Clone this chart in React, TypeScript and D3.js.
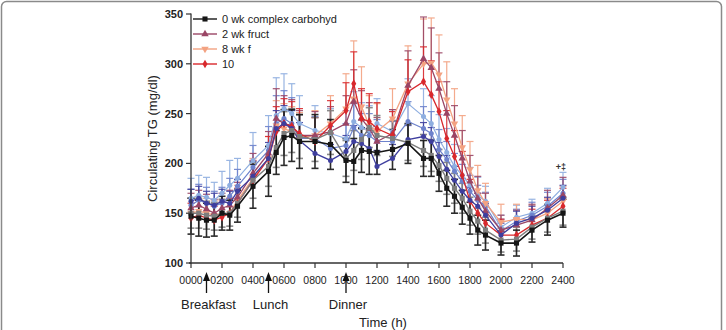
import React from 'react';
import * as d3 from 'd3';

// sampling times (h after first meal window start)
const hours = [0, 0.5, 1, 1.5, 2, 2.5, 3, 4, 5, 5.5, 6, 6.5, 7, 8, 9, 10, 10.5, 11, 11.5, 12, 13, 14, 15, 15.5, 16, 16.5, 17, 17.5, 18, 18.5, 19, 20, 21, 22, 23, 24];
const xTicks = [0, 2, 4, 6, 8, 10, 12, 14, 16, 18, 20, 22, 24];
const yTicks = [100, 150, 200, 250, 300, 350];

const black = [147, 145, 143, 143, 150, 148, 157, 177, 192, 211, 226, 228, 222, 222, 219, 203, 202, 213, 212, 211, 214, 220, 205, 205, 190, 175, 167, 156, 145, 133, 128, 120, 120, 133, 143, 150];
const blackErr = [18, 18, 17, 16, 17, 15, 16, 22, 25, 22, 28, 26, 27, 27, 25, 22, 23, 22, 23, 22, 20, 20, 18, 18, 18, 18, 17, 17, 16, 15, 15, 12, 13, 12, 15, 14];
const gray = [150, 150, 148, 147, 150, 150, 160, 183, 197, 216, 230, 233, 227, 224, 231, 205, 213, 224, 236, 228, 225, 221, 213, 208, 198, 185, 175, 165, 152, 142, 133, 123, 124, 136, 145, 152];
const grayErr = [15, 15, 14, 14, 14, 13, 14, 18, 20, 20, 22, 22, 22, 22, 22, 18, 20, 20, 20, 20, 18, 18, 16, 16, 16, 16, 15, 15, 14, 13, 13, 12, 12, 12, 14, 14];
const indigo = [162, 165, 160, 158, 162, 160, 172, 187, 205, 235, 240, 235, 223, 210, 203, 212, 222, 220, 215, 197, 205, 224, 227, 222, 207, 194, 183, 172, 163, 157, 148, 128, 140, 145, 153, 165];
const indigoErr = [12, 12, 12, 12, 12, 12, 12, 15, 16, 18, 18, 18, 18, 16, 16, 16, 16, 16, 16, 16, 14, 14, 14, 14, 14, 14, 14, 13, 13, 13, 12, 12, 12, 12, 13, 13];
const blue = [158, 163, 160, 157, 160, 167, 177, 196, 213, 240, 245, 240, 225, 225, 215, 218, 236, 228, 228, 222, 222, 242, 235, 230, 214, 204, 192, 182, 172, 163, 157, 132, 142, 148, 157, 170];
const blueErr = [16, 16, 16, 15, 16, 18, 17, 22, 24, 28, 28, 26, 24, 22, 22, 22, 24, 22, 22, 22, 20, 20, 22, 22, 20, 18, 18, 17, 16, 15, 14, 12, 12, 13, 14, 14];
const lightBlue = [165, 168, 166, 163, 170, 178, 185, 203, 218, 248, 255, 250, 240, 233, 230, 225, 242, 236, 233, 240, 232, 260, 247, 240, 224, 211, 197, 188, 178, 168, 162, 136, 146, 150, 160, 176];
const lightBlueErr = [20, 20, 20, 18, 22, 25, 20, 28, 30, 38, 35, 30, 28, 25, 25, 28, 30, 25, 25, 25, 22, 25, 28, 28, 25, 24, 22, 20, 18, 18, 15, 12, 12, 14, 15, 15];
const fruct2 = [155, 158, 154, 150, 155, 158, 166, 190, 210, 245, 240, 238, 228, 228, 232, 240, 262, 245, 235, 222, 230, 278, 305, 296, 275, 250, 228, 205, 182, 165, 152, 133, 138, 143, 155, 168];
const fruct2Err = [15, 15, 15, 14, 15, 15, 15, 20, 22, 30, 28, 26, 25, 24, 25, 28, 32, 28, 26, 24, 24, 35, 42, 40, 36, 32, 30, 28, 26, 22, 18, 15, 15, 16, 18, 18];
const fruct8 = [150, 152, 150, 148, 148, 150, 163, 185, 205, 238, 235, 232, 226, 228, 240, 255, 265, 257, 238, 232, 245, 280, 300, 301, 289, 264, 240, 216, 194, 173, 160, 141, 144, 143, 150, 162];
const fruct8Err = [15, 15, 15, 15, 15, 15, 15, 20, 22, 25, 25, 25, 25, 25, 28, 35, 58, 40, 30, 28, 30, 38, 45, 45, 40, 38, 35, 32, 28, 25, 20, 18, 15, 15, 15, 15];
const fruct10 = [145, 148, 145, 143, 146, 150, 160, 183, 205, 232, 240, 237, 230, 222, 238, 253, 280, 245, 242, 235, 228, 272, 282, 269, 252, 225, 207, 188, 162, 150, 140, 128, 128, 138, 145, 157];
const fruct10Err = [15, 15, 15, 14, 15, 15, 15, 20, 22, 25, 25, 25, 25, 24, 25, 28, 32, 30, 28, 26, 24, 32, 35, 34, 30, 28, 26, 24, 22, 20, 18, 16, 16, 16, 18, 18];

const legendLabels = ['0 wk complex carbohyd', '2 wk fruct', '8 wk f', '10'];
const mealLabels = ['Breakfast', 'Lunch', 'Dinner'];
const mealHours = [1, 5, 10];

type Series = { values: number[]; err: number[]; color: string; shape: string; both: boolean; width: number };

const series: Series[] = [
  { values: lightBlue, err: lightBlueErr, color: '#8eaee0', shape: 'circle', both: false, width: 1.2 },
  { values: blue, err: blueErr, color: '#6d82cc', shape: 'circle', both: false, width: 1.2 },
  { values: fruct8, err: fruct8Err, color: '#f3a281', shape: 'tri-down', both: false, width: 1.3 },
  { values: fruct2, err: fruct2Err, color: '#9a4565', shape: 'tri', both: false, width: 1.3 },
  { values: fruct10, err: fruct10Err, color: '#d8282c', shape: 'diamond', both: false, width: 1.3 },
  { values: indigo, err: indigoErr, color: '#3e3e9e', shape: 'circle', both: false, width: 1.3 },
  { values: gray, err: grayErr, color: '#7d7d7d', shape: 'square', both: true, width: 1.4 },
  { values: black, err: blackErr, color: '#161616', shape: 'square', both: true, width: 1.6 },
];

const legendSeries = [7, 3, 2, 4];

function symbolPath(shape: string) {
  if (shape === 'square') return d3.symbol(d3.symbolSquare, 26)()!;
  if (shape === 'tri' || shape === 'tri-down') return d3.symbol(d3.symbolTriangle, 24)()!;
  if (shape === 'diamond') return d3.symbol(d3.symbolDiamond, 22)()!;
  return d3.symbol(d3.symbolCircle, 20)()!;
}

export default function App() {
  const x = d3.scaleLinear().domain([0, 24]).range([191, 563]);
  const y = d3.scaleLinear().domain([100, 350]).range([263, 14]);
  const line = d3.line<number>().x((d, i) => x(hours[i])).y((d) => y(d));
  const font = 'Arial, "Liberation Sans", Helvetica, sans-serif';

  return (
    <svg width={726} height={330} style={{ position: 'absolute', left: 0, top: 0, background: '#fff' }} fontFamily={font}>
      <rect x={1.5} y={1.5} width={720} height={345} rx={5} fill="none" stroke="#8a8a8a" strokeWidth={1.5} />

      {/* error bars */}
      {series.map((s, si) => (
        <g key={'e' + si} stroke={s.color} strokeWidth={s.both ? 1.6 : 1.2} opacity={0.9}>
          {s.values.map((v, i) => {
            const cx = x(hours[i]);
            const top = y(v + s.err[i]);
            const bot = s.both ? y(v - s.err[i]) : y(v);
            return (
              <g key={i}>
                <line x1={cx} x2={cx} y1={top} y2={bot} />
                <line x1={cx - 3.5} x2={cx + 3.5} y1={top} y2={top} />
                {s.both && <line x1={cx - 3.5} x2={cx + 3.5} y1={bot} y2={bot} />}
              </g>
            );
          })}
        </g>
      ))}

      {/* lines + markers */}
      {series.map((s, si) => (
        <g key={'l' + si}>
          <path d={line(s.values) || ''} fill="none" stroke={s.color} strokeWidth={s.width} />
          {s.values.map((v, i) => (
            <path
              key={i}
              d={symbolPath(s.shape)}
              fill={s.color}
              transform={`translate(${x(hours[i])},${y(v)})${s.shape === 'tri-down' ? ' rotate(180)' : ''}`}
            />
          ))}
        </g>
      ))}

      {/* y axis */}
      <line x1={191} x2={191} y1={y(350) - 0.5} y2={y(100) + 0.5} stroke="#333" strokeWidth={1.3} />
      {yTicks.map((t) => (
        <g key={t}>
          <line x1={186} x2={191} y1={y(t)} y2={y(t)} stroke="#333" strokeWidth={1.2} />
          <text x={183} y={y(t) + 4} textAnchor="end" fontSize={11} fontWeight="bold" fill="#222">{t}</text>
        </g>
      ))}
      <text transform={`translate(157,${y(225)}) rotate(-90)`} textAnchor="middle" fontSize={13} fill="#222">Circulating TG (mg/dl)</text>

      {/* x axis */}
      <line x1={189} x2={x(24)} y1={263} y2={263} stroke="#333" strokeWidth={1.3} />
      {xTicks.map((t) => (
        <g key={t}>
          <line x1={x(t)} x2={x(t)} y1={263} y2={268} stroke="#333" strokeWidth={1.2} />
          <text x={x(t)} y={284} textAnchor="middle" fontSize={10.5} fill="#222">{String(t * 100).padStart(4, '0')}</text>
        </g>
      ))}

      {/* meals */}
      {mealHours.map((h, i) => (
        <g key={h}>
          <line x1={x(h)} x2={x(h)} y1={280} y2={293} stroke="#111" strokeWidth={1.3} />
          <path d={`M${x(h)},272 L${x(h) - 3.5},281 L${x(h) + 3.5},281 Z`} fill="#111" />
          <text x={x(h) + 2} y={309} textAnchor="middle" fontSize={13} fill="#222">{mealLabels[i]}</text>
        </g>
      ))}
      <text x={383} y={327} textAnchor="middle" fontSize={13} fill="#222">Time (h)</text>

      <text x={561} y={170} textAnchor="middle" fontSize={9} fontWeight="bold" fill="#333">+‡</text>

      {/* legend */}
      {legendSeries.map((si, i) => {
        const s = series[si];
        const ly = 19 + i * 15;
        return (
          <g key={si}>
            <line x1={193} x2={217} y1={ly} y2={ly} stroke={s.color} strokeWidth={1.4} />
            <path d={symbolPath(s.shape)} fill={s.color} transform={`translate(205,${ly})${s.shape === 'tri-down' ? ' rotate(180)' : ''}`} />
            <text x={222} y={ly + 4} fontSize={11} fill="#222">{legendLabels[i]}</text>
          </g>
        );
      })}
    </svg>
  );
}
